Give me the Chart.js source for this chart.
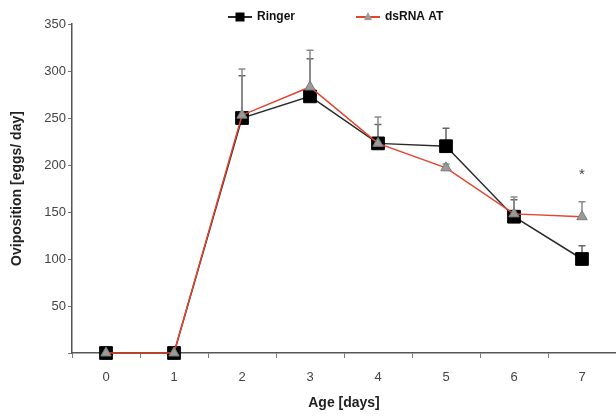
<!DOCTYPE html>
<html lang="en">
<head>
<meta charset="UTF-8">
<title>Oviposition</title>
<style>
  html, body { margin: 0; padding: 0; background: #fff; }
  #chart { display: block; }
</style>
</head>
<body>
<canvas id="chart" width="616" height="416"></canvas>
<script src="https://cdn.jsdelivr.net/npm/chart.js"></script>
<script>
// Age in days
const days = ['0', '1', '2', '3', '4', '5', '6', '7'];

// mean eggs per day and upper error (SE)
const ringer = [0, 0, 250, 273, 223, 220, 145, 100];
const ringerErr = [0, 0, 45, 40, 20, 19, 18, 14];
const dsRna = [0, 0, 253, 283, 223, 197, 148, 145];
const dsRnaErr = [0, 0, 49, 39, 28, 4, 18, 16];

// significance marks per day
const signif = ['', '', '', '', '', '', '', '*'];

const FONT = 'Liberation Sans, Arial, sans-serif';

// upper error bars, drawn under the markers
const errorBars = {
  id: 'errorBars',
  beforeDatasetsDraw(chart) {
    const ctx = chart.ctx;
    const x = chart.scales.x, y = chart.scales.y;
    chart.data.datasets.forEach(ds => {
      if (!ds.errors) return;
      ctx.save();
      ctx.strokeStyle = ds.errorColor;
      ctx.lineWidth = 1.5;
      ds.data.forEach((v, i) => {
        const e = ds.errors[i];
        if (!e) return;
        const px = x.getPixelForValue(i);
        const y0 = y.getPixelForValue(v);
        const y1 = y.getPixelForValue(v + e);
        ctx.beginPath();
        ctx.moveTo(px, y0);
        ctx.lineTo(px, y1);
        ctx.moveTo(px - 3.5, y1);
        ctx.lineTo(px + 3.5, y1);
        ctx.stroke();
      });
      ctx.restore();
    });
  },
  afterDatasetsDraw(chart) {
    // asterisk above the dsRNA error bar
    const ctx = chart.ctx;
    const x = chart.scales.x, y = chart.scales.y;
    ctx.save();
    ctx.fillStyle = '#444';
    ctx.font = '15px ' + FONT;
    ctx.textAlign = 'center';
    ctx.textBaseline = 'middle';
    signif.forEach((s, i) => {
      if (!s) return;
      const top = Math.max(ringer[i] + ringerErr[i], dsRna[i] + dsRnaErr[i]);
      ctx.fillText(s, x.getPixelForValue(i), y.getPixelForValue(top) - 27);
    });
    ctx.restore();
  }
};

// legend with line + marker, as in the original figure
const lineLegend = {
  id: 'lineLegend',
  afterDraw(chart, args, opts) {
    const ctx = chart.ctx;
    ctx.save();
    ctx.font = 'bold 12px ' + FONT;
    ctx.textBaseline = 'middle';
    opts.items.forEach(item => {
      const ds = chart.data.datasets[item.index];
      const yy = opts.y;
      ctx.strokeStyle = ds.borderColor;
      ctx.lineWidth = 2;
      ctx.beginPath();
      ctx.moveTo(item.x, yy);
      ctx.lineTo(item.x + 24, yy);
      ctx.stroke();
      const cx = item.x + 12;
      ctx.fillStyle = ds.pointBackgroundColor;
      if (ds.pointStyle === 'rect') {
        ctx.fillRect(cx - 4.5, yy - 4.5, 9, 9);
      } else {
        ctx.beginPath();
        ctx.moveTo(cx, yy - 5);
        ctx.lineTo(cx + 4, yy + 3);
        ctx.lineTo(cx - 4, yy + 3);
        ctx.closePath();
        ctx.fill();
      }
      ctx.fillStyle = '#111';
      ctx.fillText(ds.label, item.x + 29, yy);
    });
    ctx.restore();
  }
};

new Chart(document.getElementById('chart'), {
  type: 'line',
  data: {
    labels: days,
    datasets: [{
      label: 'Ringer',
      data: ringer,
      errors: ringerErr,
      errorColor: '#666',
      borderColor: '#2a2a2a',
      borderWidth: 1.5,
      pointStyle: 'rect',
      pointRadius: 9,
      pointBackgroundColor: '#000',
      pointBorderColor: '#000',
      pointBorderWidth: 1,
      tension: 0,
      clip: false,
      order: 1
    }, {
      label: 'dsRNA AT',
      data: dsRna,
      errors: dsRnaErr,
      errorColor: '#8a8a8a',
      borderColor: '#e4432e',
      borderWidth: 1.5,
      pointStyle: 'triangle',
      pointRadius: 6,
      pointBackgroundColor: '#9a9a9a',
      pointBorderColor: '#7a7a7a',
      pointBorderWidth: 1,
      tension: 0,
      clip: false,
      order: 0
    }]
  },
  options: {
    responsive: false,
    animation: false,
    layout: { autoPadding: false, padding: { top: 24, right: 0, left: 0, bottom: 0 } },
    plugins: {
      legend: { display: false },
      tooltip: { enabled: false },
      lineLegend: { y: 17, items: [{ index: 0, x: 228 }, { index: 1, x: 356 }] }
    },
    scales: {
      x: {
        type: 'category',
        offset: true,
        grid: { drawOnChartArea: false, offset: true, tickLength: 5, color: '#777' },
        border: { color: '#555', width: 1.5 },
        ticks: { color: '#444', font: { family: FONT, size: 13 }, padding: 12 },
        title: {
          display: true,
          text: 'Age [days]',
          color: '#222',
          font: { family: FONT, size: 14, weight: 'bold' },
          padding: { top: 10, bottom: 4 }
        },
        afterFit: s => { s.height = 63; }
      },
      y: {
        min: 0,
        max: 350,
        grid: { drawOnChartArea: false, tickLength: 4, color: '#777' },
        border: { color: '#555', width: 1.5 },
        ticks: {
          stepSize: 50,
          color: '#444',
          font: { family: FONT, size: 13 },
          padding: 2,
          callback: v => v === 0 ? '' : v
        },
        title: {
          display: true,
          text: 'Oviposition [eggs/ day]',
          color: '#222',
          font: { family: FONT, size: 14, weight: 'bold' },
          padding: { top: 9, bottom: 0 }
        },
        afterFit: s => { s.width = 72; }
      }
    }
  },
  plugins: [errorBars, lineLegend]
});
</script>
</body>
</html>
